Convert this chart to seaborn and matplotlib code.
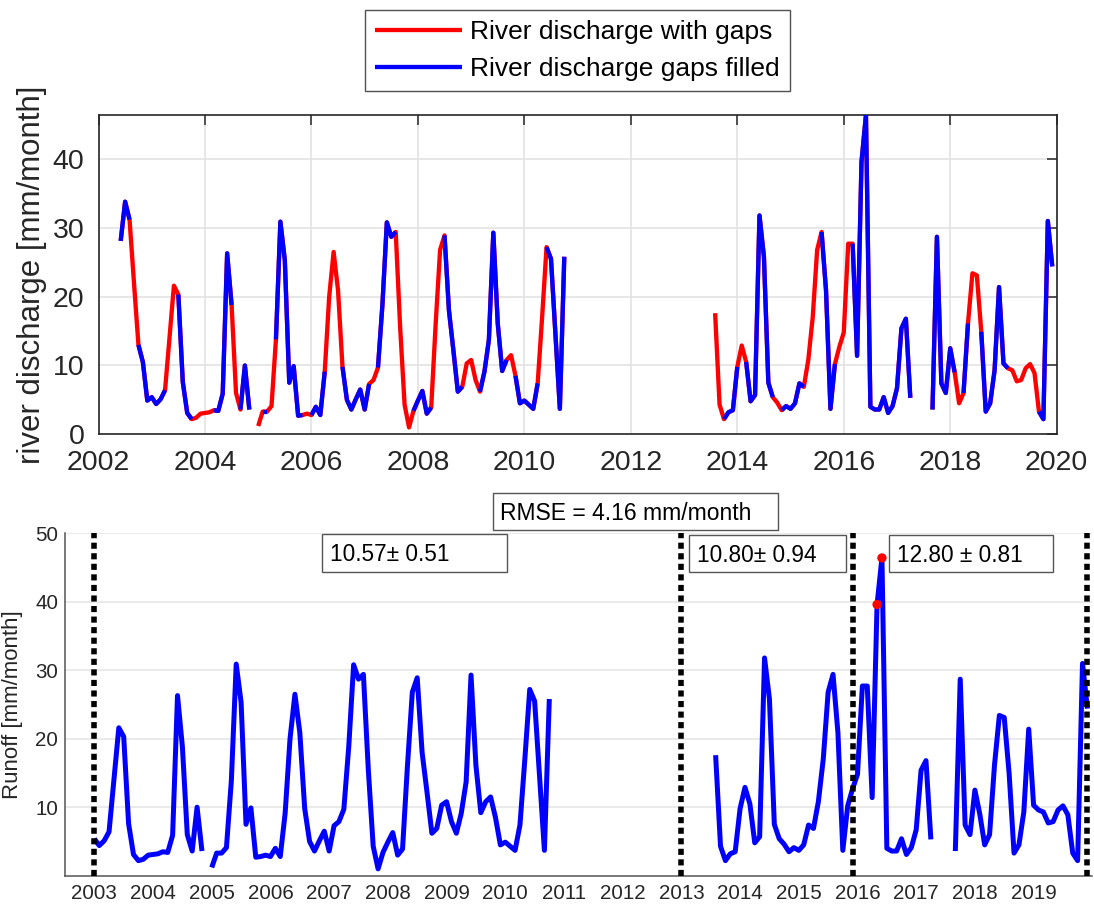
import numpy as np
import pandas as pd
import matplotlib
matplotlib.use("Agg")
import matplotlib.pyplot as plt
import seaborn as sns
from matplotlib.lines import Line2D
from matplotlib.patches import Rectangle

# ---------------- data (monthly, month index counted from Jan 2002) ----------------
months_a = list(range(5, 35))
vals_a = [28.1, 33.8, 31.2, 22.0, 13.0, 10.5, 4.9, 5.4, 4.4, 5.1, 6.4, 14.0, 21.6, 20.3, 7.6,
          3.1, 2.2, 2.4, 3.0, 3.1, 3.2, 3.5, 3.4, 5.9, 26.3, 18.8, 6.0, 3.6, 10.0, 3.6]
obs_a = [1, 1, 1, 0, 1, 1, 1, 1, 1, 1, 1, 0, 0, 1, 1,
         1, 1, 0, 0, 0, 0, 1, 1, 1, 1, 1, 0, 1, 1, 1]

months_b = list(range(36, 106))
vals_b = [1.2, 3.3, 3.3, 4.1, 13.8, 30.9, 25.3, 7.5, 9.9, 2.7, 2.8, 3.0, 2.8, 4.0, 2.8,
          9.1, 20.0, 26.5, 20.9, 9.8, 5.0, 3.6, 5.1, 6.5, 3.6, 7.3, 7.9, 9.7, 18.8, 30.8,
          28.7, 29.4, 15.5, 4.3, 1.0, 3.4, 4.9, 6.3, 3.0, 3.9, 16.0, 26.8, 28.9, 18.0, 12.2,
          6.2, 6.9, 10.3, 10.8, 7.9, 6.2, 9.1, 13.7, 29.3, 16.1, 9.2, 10.8, 11.5, 8.5, 4.5,
          4.9, 4.3, 3.7, 7.4, 17.0, 27.2, 25.5, 14.6, 3.7, 25.8]
obs_b = [0, 1, 1, 0, 1, 1, 1, 1, 1, 1, 1, 0, 1, 1, 1,
         1, 0, 0, 0, 1, 1, 1, 1, 1, 1, 1, 0, 1, 1, 1,
         1, 1, 0, 0, 0, 1, 1, 1, 1, 1, 0, 0, 1, 1, 1,
         1, 1, 0, 0, 0, 1, 1, 1, 1, 1, 1, 1, 0, 1, 1,
         1, 1, 1, 1, 0, 1, 1, 1, 1, 1]

months_c = list(range(139, 184))
vals_c = [17.6, 4.3, 2.2, 3.2, 3.5, 9.8, 12.9, 10.5, 4.8, 5.7, 31.8, 25.8, 7.5, 5.4, 4.6,
          3.5, 4.1, 3.7, 4.5, 7.4, 6.9, 10.8, 17.0, 26.8, 29.4, 20.9, 3.7, 10.2, 12.7, 14.8,
          27.7, 27.7, 11.4, 39.6, 46.4, 4.0, 3.6, 3.6, 5.4, 3.1, 4.1, 6.7, 15.4, 16.8, 5.3]
obs_c = [0, 0, 1, 1, 1, 1, 0, 1, 1, 1, 1, 1, 1, 1, 0,
         1, 1, 1, 1, 1, 1, 0, 0, 0, 1, 1, 1, 1, 0, 0,
         0, 1, 1, 1, 1, 1, 1, 1, 1, 1, 1, 1, 1, 1, 1]

months_d = list(range(188, 216))
vals_d = [3.6, 28.7, 7.4, 6.0, 12.5, 9.0, 4.5, 6.0, 16.1, 23.4, 23.1, 14.9, 3.3, 4.5,
          9.3, 21.4, 10.3, 9.6, 9.3, 7.7, 7.9, 9.6, 10.2, 8.9, 3.3, 2.2, 31.0, 24.4]
obs_d = [1, 1, 1, 1, 1, 1, 0, 1, 1, 0, 0, 1, 1, 1,
         1, 1, 1, 1, 0, 0, 0, 0, 0, 0, 1, 1, 1, 1]

outlier_months = [172, 173]
period_bounds = [2003.0, 2013.0, 2015.917, 2019.917]
period_labels = ["10.57\u00b1 0.51", "10.80\u00b1 0.94", "12.80 \u00b1 0.81"]
rmse_label = "RMSE = 4.16 mm/month"
legend_labels = ["River discharge with gaps", "River discharge gaps filled"]
top_xticks = list(range(2002, 2021, 2))
top_yticks = [0, 10, 20, 30, 40]
low_xticks = list(range(2003, 2020))
low_yticks = [10, 20, 30, 40, 50]

# ---------------- frames ----------------
frames = []
for m, v, o in [(months_a, vals_a, obs_a), (months_b, vals_b, obs_b),
                (months_c, vals_c, obs_c), (months_d, vals_d, obs_d)]:
    frames.append(pd.DataFrame({"month": m, "value": v, "observed": o}))
full = pd.concat(frames, ignore_index=True)
full["year"] = 2002 + full["month"] / 12.0
full["unit"] = (full["month"].diff() != 1).cumsum()

obs = full[full["observed"] == 1].copy()
obs["unit"] = (obs["month"].diff() != 1).cumsum()

runoff = full[full["year"] >= 2003 - 1e-9].copy()
outl = full[full["month"].isin(outlier_months)]

# ---------------- style ----------------
sns.set_theme(style="white")
plt.rcParams["font.family"] = ["Liberation Sans", "DejaVu Sans"]
plt.rcParams["lines.solid_joinstyle"] = "round"
plt.rcParams["lines.solid_capstyle"] = "butt"

W, H = 1094, 914
fig = plt.figure(figsize=(W / 100, H / 100), dpi=100)
fig.patch.set_facecolor("white")

def ax_rect(l, t, r, b):
    return [l / W, 1 - b / H, (r - l) / W, (b - t) / H]

ax1 = fig.add_axes(ax_rect(98.5, 115, 1056.7, 434.3))
ax2 = fig.add_axes(ax_rect(65, 533.3, 1092.3, 875.7))

dark = "#262626"

# ---------------- top panel ----------------
sns.lineplot(data=full, x="year", y="value", units="unit", estimator=None, sort=False,
             color="#ff0000", lw=3.1, ax=ax1, legend=False, zorder=2)
sns.lineplot(data=obs, x="year", y="value", units="unit", estimator=None, sort=False,
             color="#0000ff", lw=3.1, ax=ax1, legend=False, zorder=3)
ax1.set_xlim(2002, 2020)
ax1.set_ylim(0, full["value"].max())
ax1.set_xticks(top_xticks)
ax1.set_yticks(top_yticks)
ax1.grid(True, color="#e3e3e3", lw=1.2)
ax1.set_axisbelow(True)
ax1.tick_params(axis="both", direction="in", length=7, width=1.1, top=True, right=True,
                labelsize=20.5, colors=dark)
ax1.tick_params(axis="x", pad=11)
ax1.tick_params(axis="y", pad=10)
for s in ax1.spines.values():
    s.set_visible(True)
    s.set_color(dark)
    s.set_linewidth(1.2)
ax1.set_xlabel("")
ax1.set_ylabel("river discharge [mm/month]", fontsize=22.5, color=dark, labelpad=4)

handles = [Line2D([], [], color="#ff0000", lw=3.1), Line2D([], [], color="#0000ff", lw=3.1)]
leg = ax1.legend(handles, legend_labels, loc="lower center", bbox_to_anchor=(0.5, 1.075),
                 fontsize=19, frameon=True, fancybox=False, edgecolor=dark,
                 handlelength=3.3, handletextpad=0.3, borderpad=0.38,
                 labelspacing=0.49, borderaxespad=0)
leg.get_frame().set_linewidth(1.0)
for t in leg.get_texts():
    t.set_color("black")

# ---------------- bottom panel ----------------
sns.lineplot(data=runoff, x="year", y="value", units="unit", estimator=None, sort=False,
             color="#0000ff", lw=3.6, ax=ax2, legend=False, zorder=2)
sns.scatterplot(data=outl, x="year", y="value", color="#ff0000", s=45, edgecolor="none",
                ax=ax2, legend=False, zorder=4)
for xb in period_bounds:
    ax2.axvline(xb, color="black", lw=4, linestyle=(0, (1.1, 0.8)), zorder=3)
ax2.set_xlim(2002.5, 2020)
ax2.set_ylim(0, 50)
ax2.set_xticks(low_xticks)
ax2.set_yticks(low_yticks)
ax2.grid(True, axis="y", color="#e6e6e6", lw=1.2)
ax2.grid(False, axis="x")
ax2.set_axisbelow(True)
ax2.tick_params(axis="both", direction="in", length=7, width=1.0, labelsize=14.8,
                colors=dark)
ax2.tick_params(axis="x", pad=6)
ax2.tick_params(axis="y", pad=5)
for side in ["top", "right"]:
    ax2.spines[side].set_visible(False)
for side in ["left", "bottom"]:
    ax2.spines[side].set_color("#555555")
    ax2.spines[side].set_linewidth(1.1)
ax2.set_xlabel("")
ax2.set_ylabel("Runoff [mm/month]", fontsize=16, color=dark, labelpad=9)

# ---------------- boxed annotations (figure pixel layout) ----------------
def boxed(text, x0, y0, x1, y1, tx, fs):
    fig.patches.append(Rectangle((x0 / W, 1 - y1 / H), (x1 - x0) / W, (y1 - y0) / H,
                                 transform=fig.transFigure, facecolor="white",
                                 edgecolor="#555555", lw=1.0, zorder=5))
    cap = 0.716 * fs * 100 / 72
    yb = (y0 + y1) / 2 + cap / 2
    fig.text(tx / W, 1 - yb / H, text, ha="left", va="baseline", fontsize=fs,
             color="black", zorder=6)

boxed(rmse_label, 493, 493, 778, 530, 500, 16.5)
boxed(period_labels[0], 322, 534, 507, 572, 330, 16.3)
boxed(period_labels[1], 689, 535, 846, 572, 697, 16.3)
boxed(period_labels[2], 889, 535, 1053, 572, 897, 16.3)

fig.savefig("out.png", dpi=100)
